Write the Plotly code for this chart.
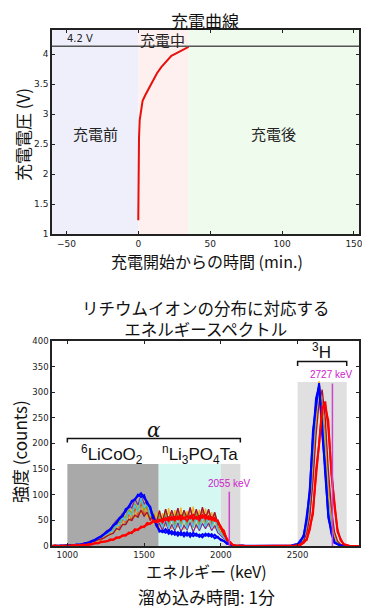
import plotly.graph_objects as go

# ---------------- Top chart data (charging curve) ----------------
t_min = [0, 0.1, 0.3, 0.5, 1, 2, 3, 5, 8, 10, 13, 16, 20, 23, 27, 31, 35]
volt = [1.23, 1.8, 2.3, 2.6, 2.9, 3.08, 3.22, 3.32, 3.45, 3.55, 3.68, 3.78, 3.9, 3.97, 4.02, 4.07, 4.12]
limit_v = 4.13
regions_t = [-60, 0, 35, 155]
region_labels = ["充電前", "充電中", "充電後"]

# ---------------- Bottom chart data (energy spectra) ----------------
energy = list(range(900, 2901, 20))

blue_a = [0,0,1,0,1,1,2,1,3,2, 4,5,7,9,12,15,19,23,27,33, 39,45,53,60,69,77,86,92,97,103,
          94,86,74,57,40,31,27,33,24,29, 22,27,21,26,20,25,19,24,18,23, 20,24,18,22,16,13,9,6,3,1,
          0,0,1,0,0,0,0,0,0,0, 0,0,0,0,0,0,0,0,1,2, 4,9,22,52,115,210,288,312,236,140,
          62,24,8,3,1,0,0,0,0,0, 0]
blue_b = [0,1,0,1,0,2,1,2,2,3, 3,6,6,10,11,16,18,24,29,31, 41,44,55,58,72,75,88,90,100,96,
          99,82,77,52,44,28,30,26,31,23, 28,20,27,19,27,18,26,20,22,17, 24,19,23,15,18,11,10,4,4,1,
          1,0,0,0,0,0,0,0,0,0, 0,0,0,0,0,0,0,1,0,3, 3,12,18,60,105,225,275,318,220,152,
          55,28,6,4,0,1,0,0,0,0, 0]
red_a = [0,0,0,1,0,1,0,1,1,2, 2,3,2,4,5,6,7,8,10,11, 13,15,17,19,22,24,27,30,33,36,
         39,42,45,47,49,52,46,55,49,57, 50,58,51,56,49,59,52,57,50,60, 53,58,51,55,47,38,26,14,6,2,
         1,0,0,0,0,0,0,0,0,0, 0,0,0,0,0,0,0,0,0,1, 1,3,6,14,32,70,135,210,265,282,
         230,150,78,32,11,4,1,0,0,0, 0]
red_b = [0,1,0,0,1,0,1,2,1,1, 3,2,4,3,6,5,8,9,9,13, 12,17,16,21,20,26,25,33,31,38,
         37,45,43,50,46,48,53,50,56,51, 57,52,60,53,58,54,61,53,59,55, 60,52,56,49,50,35,30,11,8,1,
         0,1,0,0,0,0,0,0,0,0, 0,0,0,0,0,0,0,0,1,0, 2,2,8,12,38,62,148,198,272,270,
         245,140,86,28,14,3,2,0,0,0, 0]
orange = [0,1,0,1,1,0,2,1,2,3, 3,5,4,8,9,12,11,17,19,24, 30,42,36,52,45,62,50,74,58,85,
          60,78,50,62,40,70,35,72,42,68, 38,74,45,70,36,76,44,69,40,72, 46,70,42,64,38,30,18,10,4,1,
          0,0,1,0,0,0,0,0,0,0, 0,0,0,0,0,0,0,0,0,1, 2,6,10,34,64,158,232,318,282,222,
          120,55,20,7,2,1,0,0,0,0, 0]
yellow = [1,0,0,1,0,1,1,2,1,2, 4,4,6,7,11,10,15,16,22,21, 36,28,48,40,60,48,72,55,82,62,
          90,55,70,42,66,32,64,38,74,33, 70,36,75,32,68,40,77,35,71,42, 73,38,66,34,50,26,22,8,5,1,
          1,0,0,0,0,0,0,0,0,0, 0,0,0,0,0,0,0,0,1,0, 1,6,10,35,62,160,230,322,262,236,
          105,62,17,9,1,1,0,0,0,0, 0]
purple = [0,0,1,0,2,1,1,2,3,2, 5,6,8,10,13,16,20,25,30,34, 42,50,55,64,66,78,74,92,80,98,
          82,88,64,55,38,44,30,48,28,42, 30,45,28,40,32,46,27,42,30,44, 34,45,30,40,26,20,13,7,3,1,
          0,0,0,0,0,0,0,0,0,0, 0,0,0,0,0,0,0,0,1,2, 3,8,20,45,100,200,285,314,250,150,
          70,28,9,3,1,0,0,0,0,0, 0]
green = [0,1,1,0,1,2,1,3,2,2, 4,6,7,9,12,13,18,20,26,28, 34,44,46,58,56,70,64,82,70,90,
         70,80,56,64,44,60,40,66,38,62, 42,64,38,66,42,60,36,64,40,62, 40,60,38,56,34,26,17,9,4,1,
         0,0,0,1,0,0,0,0,0,0, 0,0,0,0,0,0,0,0,0,1, 2,6,15,40,85,175,265,306,272,175,
         88,40,13,5,1,0,0,0,0,0, 0]
lightblue = [1,0,1,1,0,1,2,2,1,3, 3,5,6,8,11,13,16,21,23,28, 30,40,40,54,50,66,60,80,66,94,
             74,84,60,58,42,52,36,58,34,56, 34,58,36,56,34,60,38,56,33,58, 38,56,36,52,32,24,16,8,3,1,
             0,0,0,0,0,0,0,0,0,0, 0,0,0,0,0,0,0,1,0,2, 2,7,18,42,95,190,270,300,245,160,
             80,32,10,4,1,0,0,0,0,0, 0]
darkred = [0,0,1,0,1,1,1,2,2,3, 3,4,6,7,9,11,14,16,20,22, 25,34,32,42,42,52,50,60,56,70,
           58,66,50,62,46,68,48,72,50,70, 52,74,50,70,54,75,50,72,52,76, 54,72,50,66,44,34,22,11,5,2,
           0,1,0,0,0,0,0,0,0,0, 0,0,0,0,0,0,0,0,0,1, 1,4,10,25,58,125,215,280,305,250,
           150,75,28,10,3,1,0,0,0,0, 0]

mid_series = [(orange, "#D95319"), (yellow, "#EDB120"), (purple, "#7E2F8E"),
              (green, "#77AC30"), (lightblue, "#4DBEEE"), (darkred, "#A2142F")]
first_series = [blue_a, blue_b]
last_series = [red_a, red_b]

ref_lines = [2055, 2727]
ref_tops = [106, 317]
ref_labels = ["2055 keV", "2727 keV"]

# page body has an 8px margin: the figure is drawn 8px in from the window edge
OFF = 8
W, H = 370 - OFF, 614 - OFF
FONT = "Noto Sans CJK JP"
LAT = "Liberation Sans"


def px_x(p):
    return (p - OFF) / W


def px_y(p):
    return (H - (p - OFF)) / H


fig = go.Figure()

fig.add_trace(go.Scatter(x=t_min, y=volt, mode="lines", line=dict(color="#e8100c", width=2),
                         xaxis="x", yaxis="y", showlegend=False))

for ser, col in mid_series:
    fig.add_trace(go.Scatter(x=energy, y=ser, mode="lines", line=dict(color=col, width=1.3),
                             xaxis="x2", yaxis="y2", showlegend=False))
for ser in first_series:
    fig.add_trace(go.Scatter(x=energy, y=ser, mode="lines", line=dict(color="#0000ff", width=2),
                             xaxis="x2", yaxis="y2", showlegend=False))
for ser in last_series:
    fig.add_trace(go.Scatter(x=energy, y=ser, mode="lines", line=dict(color="#ff0000", width=2),
                             xaxis="x2", yaxis="y2", showlegend=False))
for xv, top in zip(ref_lines, ref_tops):
    fig.add_trace(go.Scatter(x=[xv, xv], y=[0, top], mode="lines", line=dict(color="#cc44cc", width=1.5),
                             xaxis="x2", yaxis="y2", showlegend=False))

shapes = []
bg_cols = ["#efeffc", "#fdf0ef", "#effbed"]
for i, c in enumerate(bg_cols):
    shapes.append(dict(type="rect", xref="x", yref="y domain", x0=regions_t[i], x1=regions_t[i + 1],
                       y0=0, y1=1, fillcolor=c, line_width=0, layer="below"))
shapes.append(dict(type="line", xref="x domain", yref="y", x0=0, x1=1, y0=limit_v, y1=limit_v,
                   line=dict(color="#555", width=1.5)))
rects2 = [(1000, 1595, 160, "#a9a9a9"), (1595, 2000, 160, "#d6f8f3"), (2000, 2127, 160, "#dcdcdc"),
          (2500, 2820, 320, "#e0e0e0")]
for x0, x1, h, c in rects2:
    shapes.append(dict(type="rect", xref="x2", yref="y2", x0=x0, x1=x1, y0=0, y1=h,
                       fillcolor=c, line_width=0, layer="below"))
for x0, x1, yb, yt in [(1000, 2127, 202, 210), (2500, 2820, 351, 360)]:
    shapes.append(dict(type="path", xref="x2", yref="y2",
                       path=f"M {x0},{yb} L {x0},{yt} L {x1},{yt} L {x1},{yb}",
                       line=dict(color="#111", width=1.5)))


def ann(text, x, y, xref, yref, size, family=FONT, color="#111", angle=0, **kw):
    d = dict(text=text, x=x, y=y, xref=xref, yref=yref, showarrow=False, textangle=angle,
             xanchor="center", yanchor="middle", font=dict(family=family, size=size, color=color))
    d.update(kw)
    return d


annotations = [
    ann("充電曲線", px_x(205), px_y(20), "paper", "paper", 17),
    ann("充電開始からの時間 (min.)", px_x(207), px_y(261), "paper", "paper", 16),
    ann("充電電圧 (V)", px_x(22), px_y(135), "paper", "paper", 17, angle=-90),
    ann("4.2 V", -40.5, limit_v, "x", "y", 10, family="DejaVu Sans", color="#222", yanchor="bottom"),
    ann(region_labels[1], 16.5, 4.24, "x", "y", 15, color="#222"),
    ann(region_labels[0], -30, 2.68, "x", "y", 15, color="#222"),
    ann(region_labels[2], 94, 2.68, "x", "y", 15, color="#222"),
    ann("リチウムイオンの分布に対応する<br>エネルギースペクトル", px_x(206), px_y(319), "paper", "paper", 16.5),
    ann("エネルギー (keV)", px_x(206), px_y(571), "paper", "paper", 16),
    ann("溜め込み時間: 1分", px_x(206), px_y(596), "paper", "paper", 17),
    ann("強度 (counts)", px_x(19), px_y(452), "paper", "paper", 17, angle=-90),
    ann("<i>α</i>", 1563, 226, "x2", "y2", 20, family="DejaVu Serif"),
    ann("<sup>6</sup>LiCoO<sub>2</sub>", 1290, 178, "x2", "y2", 17, family=LAT),
    ann("<sup>n</sup>Li<sub>3</sub>PO<sub>4</sub>Ta", 1866, 178, "x2", "y2", 17, family=LAT),
    ann("<sup>3</sup>H", 2655, 380, "x2", "y2", 17, family=LAT),
    ann(ref_labels[0], 2056, 122, "x2", "y2", 10, family=LAT, color="#cc22cc"),
    ann(ref_labels[1], 2722, 334, "x2", "y2", 10, family=LAT, color="#cc22cc"),
]

axis_common = dict(showline=True, linecolor="#222", linewidth=1.5, mirror="ticks", ticks="inside",
                   ticklen=3, tickwidth=1.2, tickcolor="#222", showgrid=False, zeroline=False,
                   automargin=False)
tf_top = dict(family="DejaVu Sans", size=9, color="#222")
tf_bot = dict(family="DejaVu Sans", size=8.5, color="#222")

fig.update_layout(
    template="none",
    width=W, height=H, autosize=False,
    margin=dict(l=0, r=0, t=0, b=0, pad=0),
    paper_bgcolor="white", plot_bgcolor="white",
    font=dict(family=FONT, color="#111"),
    shapes=shapes, annotations=annotations,
    xaxis=dict(domain=[px_x(52), px_x(359)], anchor="y", range=[-60, 153.5],
               tickvals=[-50, 0, 50, 100, 150], tickfont=tf_top, **axis_common),
    yaxis=dict(domain=[px_y(234), px_y(30)], anchor="x", range=[1, 4.4],
               tickvals=[1, 1.5, 2, 2.5, 3, 3.5, 4], ticktext=["1", "1.5", "2", "2.5", "3", "3.5", "4"],
               tickfont=tf_top, **axis_common),
    xaxis2=dict(domain=[px_x(52), px_x(359)], anchor="y2", range=[900, 2900],
                tickvals=[1000, 1500, 2000, 2500], tickfont=tf_bot, **axis_common),
    yaxis2=dict(domain=[px_y(546), px_y(341)], anchor="x2", range=[0, 400],
                tickvals=list(range(0, 401, 50)), tickfont=tf_bot, **axis_common),
)

fig.write_html("out.html")
